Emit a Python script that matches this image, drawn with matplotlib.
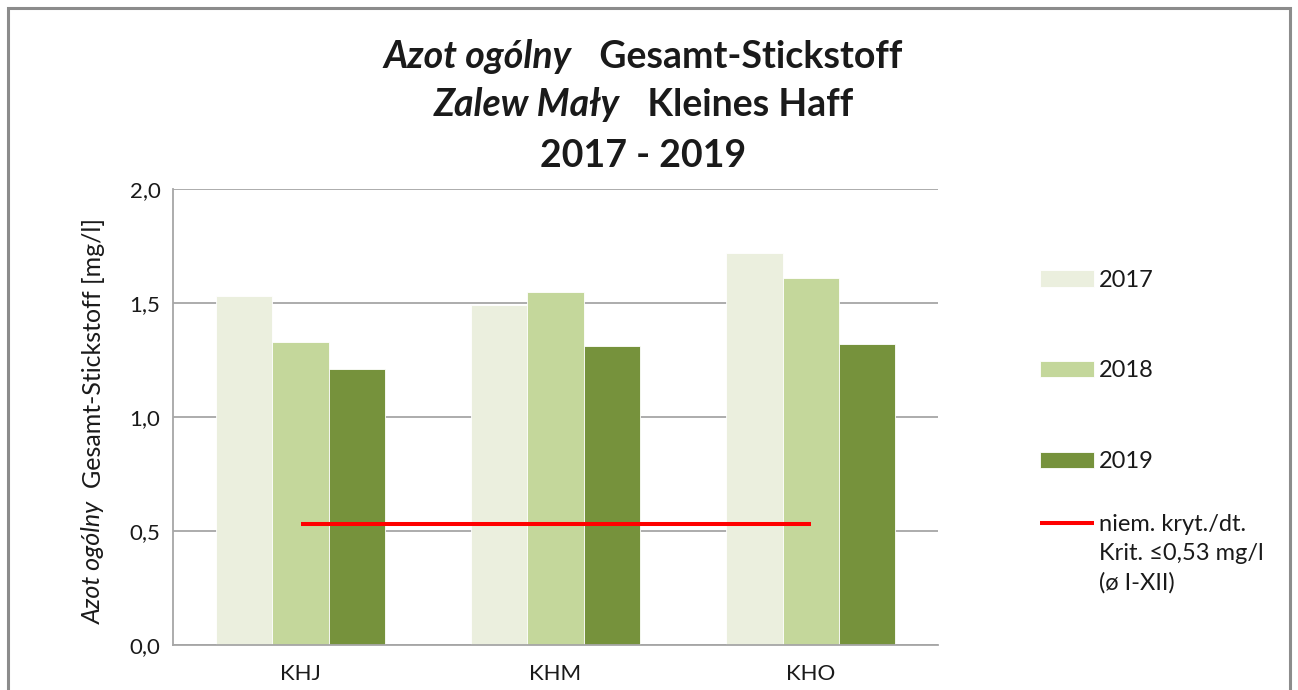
"""
Azot ogólny / Gesamt-Stickstoff, Zalew Mały / Kleines Haff, 2017-2019.
Słupki roczne dla stacji KHJ, KHM, KHO i linia kryterium 0,53 mg/l.
"""
import matplotlib
matplotlib.use("Agg")
import matplotlib.pyplot as plt
from matplotlib.patches import Rectangle
from matplotlib.offsetbox import TextArea, HPacker, AnnotationBbox

plt.rcParams["font.family"] = ["Lato", "DejaVu Sans"]

# dane
stations = ["KHJ", "KHM", "KHO"]
years = ["2017", "2018", "2019"]
n_2017 = [1.53, 1.49, 1.72]
n_2018 = [1.33, 1.55, 1.61]
n_2019 = [1.21, 1.31, 1.32]
criterion = 0.53
yticks = [0.0, 0.5, 1.0, 1.5, 2.0]
ytick_labels = ["0,0", "0,5", "1,0", "1,5", "2,0"]
crit_label = ["niem. kryt./dt.", "Krit. ≤0,53 mg/l", "(ø I-XII)"]

colors = ["#EBEFDE", "#C4D79B", "#76923C"]
GRID = "#A6A6A6"
TXT = "#1A1A1A"

fig = plt.figure(figsize=(12.98, 6.9), dpi=100)
ax = fig.add_axes([0.1333, 0.0652, 0.5894, 0.6609])

w = 0.22
series = [n_2017, n_2018, n_2019]
handles = []
for j, (vals, yr) in enumerate(zip(series, years)):
    xs = [i + (j - 1) * w for i in range(len(stations))]
    b = ax.bar(xs, vals, width=w, color=colors[j], edgecolor="white",
               linewidth=0.6, label=yr, zorder=2)
    handles.append(b)

ln, = ax.plot(range(len(stations)), [criterion] * len(stations),
              color="#FF0000", lw=2.9, solid_capstyle="butt", zorder=3,
              label=crit_label[0])

ax.set_xlim(-0.5, len(stations) - 0.5)
ax.set_ylim(0, 2.0)
ax.set_yticks(yticks)
ax.set_yticklabels(ytick_labels)
ax.set_xticks(range(len(stations)))
ax.set_xticklabels(stations)
ax.tick_params(axis="both", length=0, labelsize=16, colors=TXT)
ax.tick_params(axis="y", pad=9)
ax.tick_params(axis="x", pad=14)
ax.yaxis.grid(True, color=GRID, lw=1.3, zorder=0)
ax.set_axisbelow(True)
for s in ["top", "right"]:
    ax.spines[s].set_visible(False)
for s in ["left", "bottom"]:
    ax.spines[s].set_color(GRID)
    ax.spines[s].set_linewidth(1.3)

# oś Y: część polska kursywą, niemiecka prosto
t1 = fig.text(0.072, 1 - 624 / 690, "Azot ogólny", rotation=90, style="italic",
              fontsize=18, color=TXT, ha="center", va="bottom")
ax.annotate("Gesamt-Stickstoff [mg/l]", xy=(0.5, 1), xycoords=t1,
            xytext=(0, 9), textcoords="offset points", rotation=90,
            fontsize=18, color=TXT, ha="center", va="bottom")

# tytuł
title_lines = [("Azot ogólny", "   Gesamt-Stickstoff", 1 - 56 / 690),
               ("Zalew Mały", "   Kleines Haff", 1 - 104 / 690),
               ("", "2017 - 2019", 1 - 156 / 690)]
for it, nm, yy in title_lines:
    parts = []
    if it:
        parts.append(TextArea(it, textprops=dict(fontsize=27, style="italic",
                                                 weight="bold", color=TXT)))
    parts.append(TextArea(nm, textprops=dict(fontsize=27, weight="bold",
                                             color=TXT)))
    box = HPacker(children=parts, align="baseline", pad=0, sep=0)
    fig.add_artist(AnnotationBbox(box, (0.4955, yy), xycoords="figure fraction",
                                  frameon=False, box_alignment=(0.5, 0.5)))

# legenda: słupki
leg_style = dict(frameon=False, fontsize=17, handlelength=2.3,
                 handleheight=0.7, handletextpad=0.2, borderpad=0,
                 labelcolor=TXT, loc="upper left")
fig.legend(handles, years, bbox_to_anchor=(1028 / 1298, 1 - 258 / 690),
           labelspacing=2.95, **leg_style)
# legenda: linia kryterium (opis w trzech wierszach)
leg2 = fig.legend([ln], crit_label[:1], bbox_to_anchor=(1028 / 1298, 1 - 502 / 690),
                  **leg_style)
fig.canvas.draw()
ax.annotate("\n".join(crit_label[1:]), xy=(0, 0), xycoords=leg2.get_texts()[0],
            xytext=(0, -6), textcoords="offset points", fontsize=17,
            color=TXT, ha="left", va="top", linespacing=1.45)

# ramka wykresu
fig.add_artist(Rectangle((8 / 1298, -0.05), 1282 / 1298, 1.05 - 8 / 690,
                         transform=fig.transFigure, fill=False,
                         edgecolor="#8C8C8C", lw=2.2))

fig.savefig("out.png", dpi=100)
